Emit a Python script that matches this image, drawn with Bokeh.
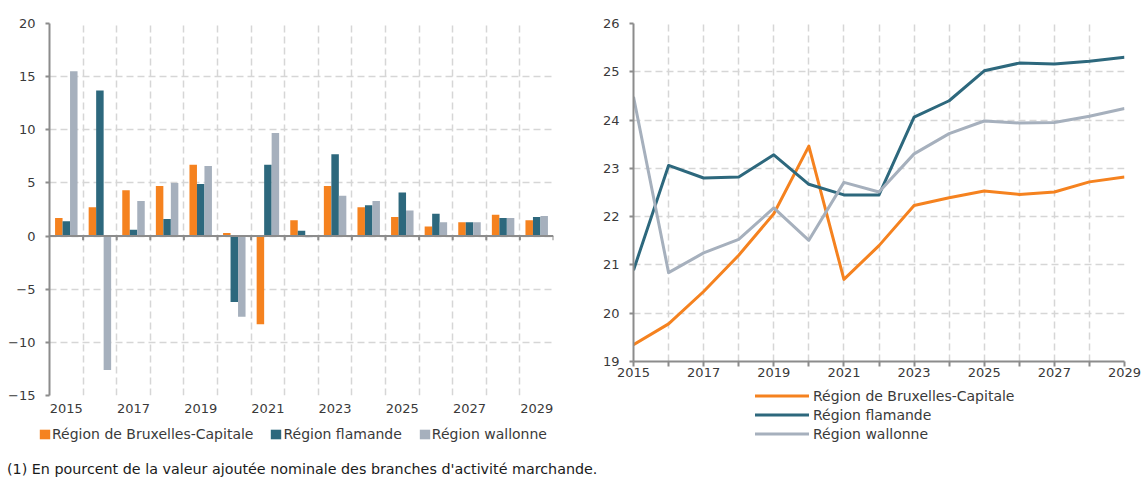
from bokeh.plotting import figure
from bokeh.models import (ColumnDataSource, Legend, LegendItem, FixedTicker, Range1d, Div)
from bokeh.transform import dodge
from bokeh.embed import file_html
from bokeh.resources import INLINE

# ---------------- data ----------------
years = list(range(2015, 2030))

# left chart: annual growth (%)
bru_growth = [1.7, 2.7, 4.3, 4.7, 6.7, 0.3, -8.3, 1.5, 4.7, 2.7, 1.8, 0.9, 1.3, 2.0, 1.5]
fla_growth = [1.4, 13.7, 0.6, 1.6, 4.9, -6.2, 6.7, 0.5, 7.7, 2.9, 4.1, 2.1, 1.3, 1.7, 1.8]
wal_growth = [15.5, -12.6, 3.3, 5.0, 6.6, -7.6, 9.7, -0.1, 3.8, 3.3, 2.4, 1.3, 1.3, 1.7, 1.9]

# right chart: share (%)
bru_share = [19.35, 19.78, 20.45, 21.2, 22.06, 23.46, 20.70, 21.40, 22.23, 22.39, 22.53, 22.46, 22.51, 22.72, 22.82]
fla_share = [20.89, 23.06, 22.80, 22.82, 23.28, 22.67, 22.45, 22.45, 24.06, 24.40, 25.02, 25.18, 25.16, 25.22, 25.30]
wal_share = [24.48, 20.84, 21.25, 21.53, 22.18, 21.51, 22.71, 22.51, 23.30, 23.72, 23.98, 23.94, 23.95, 24.08, 24.24]

series_names = ["Région de Bruxelles-Capitale", "Région flamande", "Région wallonne"]
footnote = "(1) En pourcent de la valeur ajoutée nominale des branches d'activité marchande."

# ---------------- style ----------------
ORANGE = "#F5821F"
TEAL = "#2D687D"
GREY = "#A6B0BD"
COLORS = [ORANGE, TEAL, GREY]
AXIS = "#8C8C8C"
GRID = "#D6D6D6"
TXT = "#3A3A3A"
FONT = "DejaVu Sans"


def style_common(p):
    p.outline_line_color = None
    p.background_fill_color = "white"
    p.border_fill_color = "white"
    for ax in p.axis:
        ax.major_label_text_font = FONT
        ax.major_label_text_font_size = "13px"
        ax.major_label_text_color = TXT
        ax.axis_line_color = AXIS
        ax.axis_line_width = 2
        ax.major_tick_line_color = AXIS
        ax.major_tick_line_width = 2
        ax.minor_tick_line_color = AXIS
        ax.minor_tick_line_width = 2
        ax.major_tick_in = 0
        ax.minor_tick_in = 0
    for g in p.grid:
        g.grid_line_color = GRID
        g.grid_line_dash = "7 4"
        g.grid_line_width = 1.5


def legend_figure(width, height, margin):
    # a small canvas that only carries a legend; its ranges keep the data out of view
    f = figure(width=width, height=height, output_backend="svg", toolbar_location=None,
               x_axis_type=None, y_axis_type=None, x_range=Range1d(0, 1), y_range=Range1d(0, 1),
               min_border=0, margin=margin)
    f.outline_line_color = None
    f.background_fill_alpha = 0
    f.border_fill_alpha = 0
    return f


CHART_H = 430

# ---------------- left chart ----------------
src = ColumnDataSource(dict(year=years, bru=bru_growth, fla=fla_growth, wal=wal_growth))
cols_l = ["bru", "fla", "wal"]

left = figure(width=575, height=CHART_H, output_backend="svg", toolbar_location=None,
              x_range=Range1d(years[0] - 0.5, years[-1] + 0.5), y_range=Range1d(-15, 20),
              min_border_left=49, min_border_right=22, min_border_top=23, min_border_bottom=35)
style_common(left)

bw = 0.223
for k, (col, c) in enumerate(zip(cols_l, COLORS)):
    left.vbar(x=dodge("year", (k - 1) * bw, range=left.x_range), top=col, width=bw, source=src,
              fill_color=c, line_color=None)

# zero line with tick marks at category boundaries
bounds = [y - 0.5 for y in years] + [years[-1] + 0.5]
left.segment(x0=[years[0] - 0.5], y0=[0], x1=[years[-1] + 0.5], y1=[0], line_color=AXIS, line_width=2)
left.segment(x0=bounds[1:], y0=[0] * (len(bounds) - 1), x1=bounds[1:], y1=[-0.4] * (len(bounds) - 1),
             line_color=AXIS, line_width=2)

left.xaxis.ticker = FixedTicker(ticks=years[::2])
left.xaxis.axis_line_color = None
left.xaxis.major_tick_line_color = None
left.xaxis.major_tick_out = 0
left.xaxis.major_label_standoff = 8
left.xgrid.ticker = FixedTicker(ticks=bounds[1:])

left.yaxis.ticker = FixedTicker(ticks=list(range(-15, 21, 5)))
left.yaxis.major_tick_out = 4
left.yaxis.major_label_standoff = 10
left.ygrid.ticker = FixedTicker(ticks=list(range(-15, 21, 5)))

# ---------------- right chart ----------------
src2 = ColumnDataSource(dict(year=years, bru=bru_share, fla=fla_share, wal=wal_share))
right = figure(width=568, height=CHART_H, output_backend="svg", toolbar_location=None,
               x_range=Range1d(years[0], years[-1]), y_range=Range1d(19, 26),
               min_border_left=58, min_border_right=19, min_border_top=23, min_border_bottom=69,
               margin=(-CHART_H, 0, 0, 575))
style_common(right)

for col, c in zip(cols_l, COLORS):
    right.line("year", col, source=src2, line_color=c, line_width=3, line_join="round")

right.xaxis.ticker = FixedTicker(ticks=years[::2], minor_ticks=years[1::2])
right.xaxis.major_tick_out = 5
right.xaxis.minor_tick_out = 5
right.xaxis.major_label_standoff = 1
right.xgrid.ticker = FixedTicker(ticks=years[1:])

right.yaxis.ticker = FixedTicker(ticks=list(range(19, 27)))
right.yaxis.major_tick_out = 4
right.yaxis.major_label_standoff = 10
right.ygrid.ticker = FixedTicker(ticks=list(range(20, 27)))

# ---------------- legends (own small canvases placed under each chart) ----------------
LL_H = 30
legl = legend_figure(575, LL_H, (419 - CHART_H, 0, 0, 0))
bar_items = []
for name, col, c in zip(series_names, cols_l, COLORS):
    rr = legl.vbar(x="year", top=col, width=bw, source=src, fill_color=c, line_color=None)
    bar_items.append(LegendItem(label=name, renderers=[rr]))
legl.add_layout(Legend(items=bar_items, orientation="horizontal", location=(38, 7),
                       glyph_width=13, glyph_height=12, label_standoff=1, spacing=16,
                       padding=0, margin=0, border_line_color=None, background_fill_alpha=0,
                       label_text_font=FONT, label_text_font_size="14px", label_text_color=TXT,
                       label_height=17))

LR_H = 65
legr = legend_figure(568, LR_H, (382 - (419 + LL_H), 0, 0, 575))
line_items = []
for name, col, c in zip(series_names, cols_l, COLORS):
    rr = legr.line("year", col, source=src2, line_color=c, line_width=3, line_cap="round")
    line_items.append(LegendItem(label=name, renderers=[rr]))
legr.add_layout(Legend(items=line_items, orientation="vertical", location=(180, 4),
                       glyph_width=54, glyph_height=19, label_standoff=4, spacing=0,
                       padding=0, margin=0, border_line_color=None, background_fill_alpha=0,
                       label_text_font=FONT, label_text_font_size="14px", label_text_color=TXT,
                       label_height=19))

note = Div(text=footnote, width=1136, height=20, margin=(459 - (382 + LR_H), 0, 0, 7),
           styles={"font-family": FONT, "font-size": "14.3px", "color": "#1a1a1a", "white-space": "nowrap"})

open("out.html", "w").write(file_html([left, right, legl, legr, note], INLINE))
